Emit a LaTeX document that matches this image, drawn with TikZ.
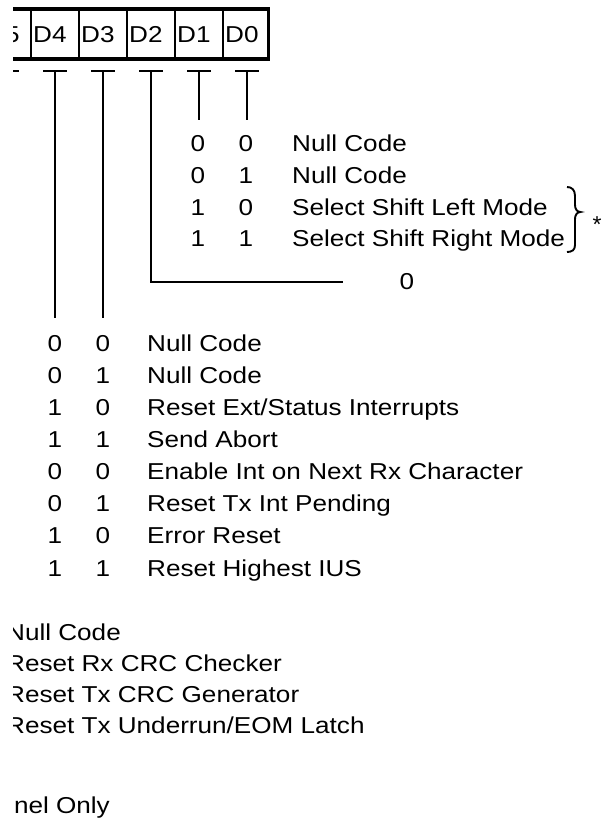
\documentclass[tikz,border=0pt]{standalone}
\usepackage{fontspec}
\setmainfont{Liberation Sans}
\newcommand{\wide}[1]{\scalebox{1.135}[1]{#1}}
\begin{document}
\begin{tikzpicture}[x=1pt,y=-1pt,
  txt/.style={inner sep=0,anchor=base west,font=\fontsize{23}{26}\selectfont},
  dig/.style={inner sep=0,anchor=base,font=\fontsize{23}{26}\selectfont},
  wire/.style={line width=2.2pt},
  frame/.style={line width=3.4pt},
  divider/.style={line width=1.8pt}]
\useasboundingbox (0,0) rectangle (608,818);
\clip (13,0) rectangle (608,818);
% register
\draw[frame] (-17,9) rectangle (268.5,59);
\foreach \x in {31,79,127,175,223} \draw[divider] (\x,9) -- (\x,59);
\node[txt] (d5) at (-14,42.5) {\wide{D5}};
\node[txt] (d4) at (33,42.5) {\wide{D4}};
\node[txt] (d3) at (81,42.5) {\wide{D3}};
\node[txt] (d2) at (129,42.5) {\wide{D2}};
\node[txt] (d1) at (177,42.5) {\wide{D1}};
\node[txt] (d0) at (225,42.5) {\wide{D0}};
% ticks
\foreach \n/\x in {5/7,4/55,3/103,2/151,1/199,0/247}{
  \coordinate (t\n) at (\x,71);
  \draw[wire] (\x-12,71) -- (\x+12,71);
}
\coordinate (e1) at (199,120);
\coordinate (e0) at (247,120);
\coordinate (e2) at (151,282);
\coordinate (h2) at (343,282);
\coordinate (e4) at (55,318);
\coordinate (e3) at (103,318);
\draw[wire] (t1) -- (e1);
\draw[wire] (t0) -- (e0);
\draw[wire] (t2) -- (e2) -- (h2);
\draw[wire] (t4) -- (e4);
\draw[wire] (t3) -- (e3);
\node[dig] (z2) at (407,289.5) {\wide{0}};
% upper table
\foreach \i/\a/\b/\t in {0/0/0/{Null Code},1/0/1/{Null Code},2/1/0/{Select Shift Left Mode},3/1/1/{Select Shift Right Mode}}{
  \node[dig] (ua\i) at (198,151.7+31.7*\i) {\wide{\a}};
  \node[dig] (ub\i) at (246,151.7+31.7*\i) {\wide{\b}};
  \node[txt] (ut\i) at (292,151.7+31.7*\i) {\wide{\t}};
}
% brace
\draw[line width=1.9pt] (567,187) .. controls (572,187) and (575,190) .. (575,196) -- (575,205)
  .. controls (575,209) and (577,212) .. (580.5,212)
  .. controls (577,212) and (575,215) .. (575,219) -- (575,245)
  .. controls (575,250) and (572,252) .. (567,252);
\node[dig] (star) at (597,233) {*};
% lower table
\foreach \i/\a/\b/\t in {0/0/0/{Null Code},1/0/1/{Null Code},2/1/0/{Reset Ext/Status Interrupts},3/1/1/{Send Abort},4/0/0/{Enable Int on Next Rx Character},5/0/1/{Reset Tx Int Pending},6/1/0/{Error Reset},7/1/1/{Reset Highest IUS}}{
  \node[dig] (la\i) at (55,351.3+32.1*\i) {\wide{\a}};
  \node[dig] (lb\i) at (103,351.3+32.1*\i) {\wide{\b}};
  \node[txt] (lt\i) at (147,351.3+32.1*\i) {\wide{\t}};
}
% bottom
\foreach \i/\t in {0/{Null Code},1/{Reset Rx CRC Checker},2/{Reset Tx CRC Generator},3/{Reset Tx Underrun/EOM Latch}}{
  \node[txt] (bt\i) at (6,640.5+31*\i) {\wide{\t}};
}
\node[txt,anchor=base east] (only) at (110,813) {\wide{nel Only}};
\end{tikzpicture}
\end{document}
